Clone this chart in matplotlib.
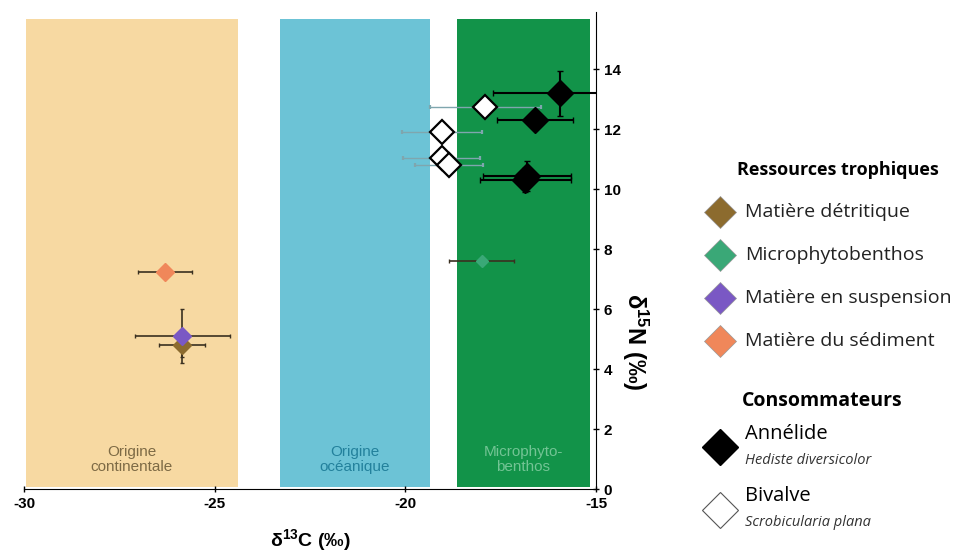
import matplotlib.pyplot as plt

plt.rcParams["mathtext.fontset"] = "custom"
plt.rcParams["mathtext.rm"] = "Liberation Sans"
plt.rcParams["mathtext.bf"] = "Liberation Sans:bold"

# ---------------------------
# data (d13C, d15N, errors)
# ---------------------------
src_names = ["Matière détritique", "Microphytobenthos",
             "Matière en suspension", "Matière du sédiment"]
src_colors = ["#8c6b2e", "#3aa877", "#7a58c4", "#f0875a"]
src_x = [-25.85, -18.0, -25.85, -26.3]
src_y = [4.8, 7.6, 5.1, 7.25]
src_xerr = [0.6, 0.85, 1.25, 0.7]
src_yerr = [0.4, 0.0, 0.9, 0.0]
src_ms = [9, 6, 9, 9]

ann_x = [-15.95, -16.6, -16.8, -16.85]
ann_y = [13.2, 12.3, 10.45, 10.3]
ann_xerr = [1.75, 1.0, 1.15, 1.2]
ann_yerr = [0.75, 0.0, 0.5, 0.4]

biv_x = [-17.9, -19.05, -19.05, -18.85]
biv_y = [12.75, 11.9, 11.05, 10.8]
biv_xerr = [1.45, 1.05, 1.0, 0.9]
biv_yerr = [0.0, 0.3, 0.3, 0.0]

zones = [(-29.95, -24.4, "#f7d9a2", "Origine\ncontinentale", "#7d6a45"),
         (-23.3, -19.35, "#6cc3d6", "Origine\nocéanique", "#23819c"),
         (-18.65, -15.15, "#129349", "Microphyto-\nbenthos", "#72c494")]

fig = plt.figure(figsize=(9.62, 5.54), dpi=100)
ax = fig.add_axes([0.025, 0.117, 0.5945, 0.861])

for x0, x1, col, txt, tcol in zones:
    ax.axvspan(x0, x1, ymin=0.005, ymax=0.985, color=col, lw=0)
    ax.text((x0 + x1) / 2, 0.5, txt, ha="center", va="bottom",
            fontsize=11, color=tcol, family="Liberation Sans", linespacing=1.1)

# sources
for i in range(len(src_names)):
    ax.errorbar(src_x[i], src_y[i], xerr=src_xerr[i], yerr=src_yerr[i] or None,
                fmt="D", ms=src_ms[i], color=src_colors[i], mec=src_colors[i],
                ecolor="#3a3020", elinewidth=1.2, capsize=1.5, zorder=3)

# annelid
ax.errorbar(ann_x, ann_y, xerr=ann_xerr, yerr=ann_yerr, fmt="D", ms=13,
            color="black", ecolor="black", elinewidth=1.5, capsize=2, zorder=5)

# bivalve
ax.errorbar(biv_x, biv_y, xerr=biv_xerr, yerr=biv_yerr, fmt="D", ms=12,
            mfc="white", mec="black", mew=1.6, ecolor="#7fa6ae",
            elinewidth=1.0, capsize=1.5, zorder=4)

ax.set_xlim(-30, -15)
ax.set_ylim(0, 15.9)
ax.set_xticks([-30, -25, -20, -15])
ax.set_xticklabels(["-30", "-25", "-20", "-15"])
ax.set_yticks(range(0, 15, 2))
ax.yaxis.tick_right()
for s in ["top", "left"]:
    ax.spines[s].set_visible(False)
ax.spines["right"].set_position(("data", -15))
ax.tick_params(labelsize=11, width=1, length=4, direction="inout")
for lab in ax.get_xticklabels() + ax.get_yticklabels():
    lab.set_fontweight("bold")
    lab.set_family("Liberation Sans")

ax.set_xlabel(r"δ$\mathbf{^{13}}$C (‰)", fontsize=14, fontweight="bold",
              family="Liberation Sans")
ax.xaxis.set_label_coords(0.5, -0.08)
ax.set_ylabel(r"δ$\mathbf{^{15}}$N (‰)", fontsize=17, fontweight="bold", rotation=270,
              family="Liberation Sans")
ax.yaxis.set_label_position("right")
ax.yaxis.set_label_coords(1.095, 0.31)

# ---------------------------
# legend panel (pixel coords)
# ---------------------------
lg = fig.add_axes([640 / 962, 0, 322 / 962, 1])
lg.set_xlim(640, 962)
lg.set_ylim(554, 0)
lg.axis("off")

lg.text(838, 170, "Ressources trophiques", ha="center", va="center",
        fontsize=13, fontweight="bold", family="Open Sans")
for i, name in enumerate(src_names):
    yy = 212 + i * 43
    lg.plot(720, yy, "D", ms=16, color=src_colors[i], mec="#999999", mew=0.5)
    lg.text(745, yy, name, va="center", fontsize=14, family="Open Sans", color="#222222")

lg.text(822, 401, "Consommateurs", ha="center", va="center",
        fontsize=14, fontweight="bold", family="Open Sans")
lg.plot(720, 447, "D", ms=18, color="black")
lg.text(745, 434, "Annélide", va="center", fontsize=14.5, family="Open Sans")
lg.text(745, 461, "Hediste diversicolor", va="center", fontsize=10.5,
        style="italic", family="Open Sans", color="#333333")
lg.plot(720, 510, "D", ms=18, mfc="white", mec="#555555", mew=0.8)
lg.text(745, 496, "Bivalve", va="center", fontsize=14.5, family="Open Sans")
lg.text(745, 523, "Scrobicularia plana", va="center", fontsize=10.5,
        style="italic", family="Open Sans", color="#333333")

plt.savefig("out.png", dpi=100)
